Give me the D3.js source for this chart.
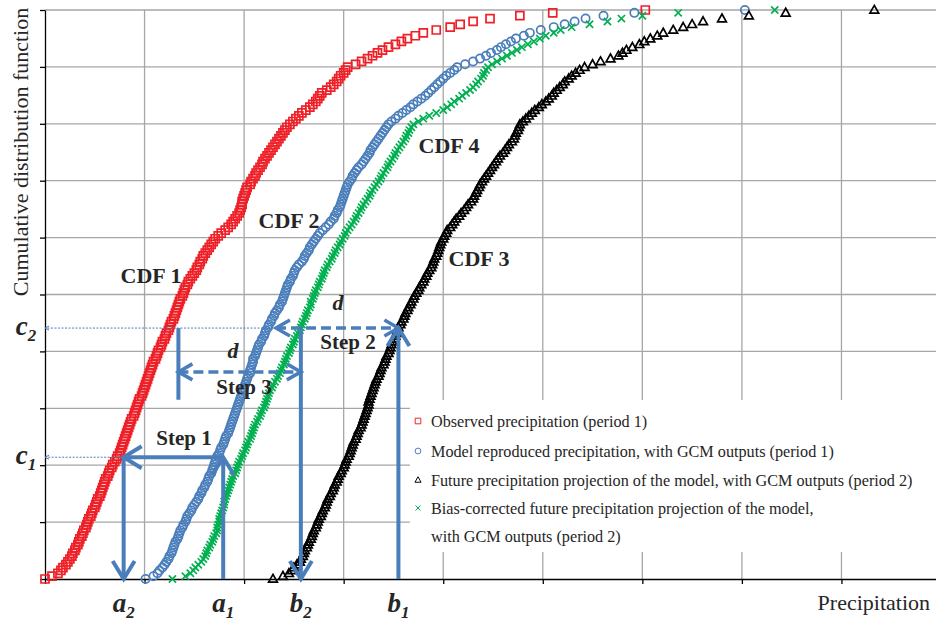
<!DOCTYPE html>
<html>
<head>
<meta charset="utf-8">
<script src="https://cdn.jsdelivr.net/npm/d3@7"></script>
<style>
body { margin: 0; background: #fff; }
text { font-family: "Liberation Serif", "Times New Roman", serif; }
</style>
</head>
<body>
<svg id="chart" width="936" height="624"></svg>
<script>
// sorted precipitation samples (rank i -> cdf i/(n-1))
var observed = [0,7,13,16,18,21,23,25,27,28, 30,31,33,34,35,37,38,39,41,42,
  43,44,46,47,48,50,51,52,53,55, 56,57,58,59,60,61,63,64,65,67,
  68,70,72,73,75,76,77,78,79,80, 81,82,83,84,85,86,87,89,90,91,
  92,93,94,95,97,98,99,100,101,102, 103,104,105,106,107,108,109,111,112,113,
  114,116,117,118,120,121,122,124,125,126, 127,129,130,131,132,133,134,135,136,138,
  139,140,141,143,144,146,148,150,152,153, 155,156,158,159,161,163,165,167,169,171,
  174,177,181,184,187,189,191,193,195,196, 197,198,198,199,200,201,202,203,206,207,
  209,211,212,214,216,218,219,221,223,225, 227,229,231,233,235,237,239,241,243,246,
  249,252,255,258,262,266,269,272,274,276, 278,283,287,290,293,295,297,300,302,304,
  312,318,324,329,334,339,345,352,358,364, 372,380,393,407,417,430,447,477,510,603];
var modelled = [101,109,113,115,118,120,122,124,125,127, 128,129,130,131,133,134,135,136,138,139,
  141,142,143,145,147,148,150,152,154,155, 157,158,160,161,163,164,165,167,168,169,
  170,171,172,173,175,176,177,179,180,181, 182,184,185,186,187,188,189,190,191,192,
  193,194,195,196,197,198,199,200,201,202, 203,204,206,206,207,208,209,209,211,212,
  213,214,215,217,218,220,221,222,224,225, 227,228,230,231,233,235,236,238,239,240,
  241,242,243,244,246,247,249,250,251,253, 255,258,260,261,263,265,266,268,270,272,
  274,276,279,282,285,287,290,291,293,294, 296,297,298,299,300,301,302,303,304,306,
  308,309,311,313,315,318,320,322,324,326, 327,329,331,333,335,337,339,341,343,345,
  348,352,355,359,363,367,370,374,378,382, 385,388,391,394,397,400,403,407,411,414,
  422,430,437,443,448,454,458,463,468,473, 481,487,498,511,522,532,543,561,592,703];
var future = [229,239,245,248,250,253,256,257,259,260, 261,263,264,265,267,268,269,270,272,273,
  274,275,277,278,279,281,282,283,284,286, 287,289,290,291,293,294,295,297,298,300,
  301,302,303,305,306,307,308,309,310,312, 313,314,315,317,318,319,320,321,322,323,
  324,325,325,326,327,328,329,330,331,332, 333,335,336,337,338,340,341,342,343,345,
  346,347,348,349,351,352,353,354,355,357, 358,360,361,362,364,365,367,368,370,371,
  373,375,376,378,380,381,383,384,386,388, 389,390,391,393,394,395,396,397,398,400,
  401,403,404,407,409,411,413,416,418,421, 423,425,428,430,431,433,434,436,437,439,
  441,443,445,447,449,451,453,455,457,460, 462,464,466,469,471,472,473,475,476,477,
  480,483,486,489,492,496,499,503,506,509, 511,514,517,520,522,526,529,533,537,542,
  550,558,568,576,580,584,590,597,602,608, 615,621,631,641,650,661,680,707,744,833];
var corrected = [128,141,146,149,151,154,157,159,161,162, 163,165,166,168,169,170,172,173,173,174,
  175,175,176,177,178,179,180,180,181,182, 183,184,185,186,187,188,189,191,192,193,
  194,195,197,198,199,201,202,203,204,206, 207,208,209,210,211,213,214,216,217,218,
  220,221,222,223,224,225,226,228,229,231, 233,234,236,237,238,240,241,242,243,245,
  246,247,249,250,251,253,254,256,257,258, 259,261,262,263,264,266,267,267,269,270,
  271,272,274,275,276,278,279,280,281,283, 284,286,288,289,291,292,294,296,297,299,
  301,302,304,306,308,310,312,313,315,317, 318,320,322,324,326,327,329,331,333,335,
  337,338,340,342,344,345,347,349,351,352, 354,356,358,360,362,363,365,366,368,370,
  375,380,386,393,400,404,408,411,416,419, 423,427,430,433,435,438,440,441,443,445,
  449,454,459,464,469,474,479,485,491,497, 503,511,518,529,547,565,579,600,636,733];

var xTicks = [0,100,200,300,400,500,600,700,800,900];
var yTicks = [0,0.1,0.2,0.3,0.4,0.5,0.6,0.7,0.8,0.9,1];
var legendLabels = [
  ["Observed precipitation (period 1)"],
  ["Model reproduced precipitation, with GCM outputs (period 1)"],
  ["Future precipitation projection of the model, with GCM outputs (period 2)"],
  ["Bias-corrected future precipitation projection of the model,", "with GCM outputs (period 2)"]
];

// quantile-mapping annotation values
var c1 = 0.214, c2 = 0.441;
var a2 = 79, a1 = 179, b2 = 257, b1 = 355;
var step2From = 232, step3From = 134;
var step3Level = 0.364, step3Bottom = 0.315;

var blue = "#4a7ebb";
var svg = d3.select("#chart");
var x = d3.scaleLinear().domain([0, 900]).range([45, 941]);
var y = d3.scaleLinear().domain([0, 1]).range([579, 10]);

// grid
svg.append("g").selectAll("line").data(xTicks.slice(1)).join("line")
    .attr("x1", d => x(d)).attr("x2", d => x(d))
    .attr("y1", y(0)).attr("y2", y(1))
    .attr("stroke", "#a6a6a6").attr("stroke-width", 1.3);
svg.append("g").selectAll("line").data(yTicks.slice(1)).join("line")
    .attr("x1", x(0)).attr("x2", x(900))
    .attr("y1", d => y(d)).attr("y2", d => y(d))
    .attr("stroke", "#a6a6a6").attr("stroke-width", 1.3);

// legend panel hides the grid behind it
svg.append("rect").attr("x", 410).attr("y", 400).attr("width", 540).attr("height", 152).attr("fill", "#fff");

// axes
var yAxis = svg.append("g").attr("transform", "translate(" + x(0) + ",0)")
    .call(d3.axisLeft(y).tickValues(yTicks).tickSize(5).tickSizeOuter(0).tickFormat(""));
var xAxis = svg.append("g").attr("transform", "translate(0," + y(0) + ")")
    .call(d3.axisBottom(x).tickValues(xTicks).tickSize(5).tickSizeOuter(0).tickFormat(""));
[xAxis, yAxis].forEach(function(g) {
    g.selectAll("path,line").attr("stroke", "#000").attr("stroke-width", 1.3);
});

// markers
var shapes = {
    square: "M-4,-4h8v8h-8z",
    circle: d3.symbol(d3.symbolCircle, 54)(),
    triangle: "M0,-4.6L4.4,3.2L-4.4,3.2Z",
    cross: "M-3.6,-3.6L3.6,3.6M-3.6,3.6L3.6,-3.6"
};
var series = [
    {values: observed, shape: "square", color: "#ee2028"},
    {values: modelled, shape: "circle", color: blue},
    {values: future, shape: "triangle", color: "#000"},
    {values: corrected, shape: "cross", color: "#00b050"}
];
series.forEach(function(s) {
    var n = s.values.length;
    svg.append("g").selectAll("path").data(s.values).join("path")
        .attr("d", shapes[s.shape])
        .attr("transform", (d, i) => "translate(" + x(d) + "," + y(i / (n - 1)) + ")")
        .attr("fill", "none")
        .attr("stroke", s.color)
        .attr("stroke-width", 1.7);
});

// arrow heads
var defs = svg.append("defs");
function arrowHead(id, w, h, sw) {
    defs.append("marker").attr("id", id)
        .attr("markerUnits", "userSpaceOnUse")
        .attr("viewBox", "0 0 " + w + " " + h)
        .attr("markerWidth", w).attr("markerHeight", h)
        .attr("refX", w - 3).attr("refY", h / 2)
        .attr("orient", "auto-start-reverse")
        .style("overflow", "visible")
      .append("path")
        .attr("d", "M3,3L" + (w - 3) + "," + (h / 2) + "L3," + (h - 3))
        .attr("fill", "none").attr("stroke", blue)
        .attr("stroke-width", sw).attr("stroke-dasharray", "none");
}
arrowHead("big", 24, 28, 4);
arrowHead("dash", 20, 22, 3.5);
arrowHead("thin", 10, 10, 1);

var ann = svg.append("g").attr("fill", "none").attr("stroke", blue);
function seg(x1, y1, x2, y2) {
    return ann.append("line").attr("x1", x(x1)).attr("y1", y(y1)).attr("x2", x(x2)).attr("y2", y(y2));
}
// thin dotted leaders to the c levels
seg(a2, c1, 0, c1).attr("stroke-width", 1).attr("stroke-dasharray", "2,1.5").attr("marker-end", "url(#thin)");
seg(226, c2, 0, c2).attr("stroke-width", 1).attr("stroke-dasharray", "2,1.5").attr("marker-end", "url(#thin)");
// step 1 and the vertical drops
seg(a1, c1, a2, c1).attr("stroke-width", 4).attr("marker-end", "url(#big)");
seg(a2, c1, a2, 0).attr("stroke-width", 4).attr("marker-end", "url(#big)");
seg(a1, 0, a1, c1).attr("stroke-width", 4).attr("marker-end", "url(#big)");
seg(b1, 0, b1, c2).attr("stroke-width", 4).attr("marker-end", "url(#big)");
seg(b2, c2, b2, 0).attr("stroke-width", 4).attr("marker-end", "url(#big)");
seg(step3From, c2, step3From, step3Bottom).attr("stroke-width", 4);
// dashed d arrows
seg(step2From, c2, b1, c2).attr("stroke-width", 3.5).attr("stroke-dasharray", "10,5")
    .attr("marker-start", "url(#dash)").attr("marker-end", "url(#dash)");
seg(step3From, step3Level, b2, step3Level).attr("stroke-width", 3.5).attr("stroke-dasharray", "10,5")
    .attr("marker-start", "url(#dash)").attr("marker-end", "url(#dash)");

// bold labels in the plot
var notes = [
    {t: "CDF 1", x: 151, y: 283, s: 22, it: false},
    {t: "CDF 2", x: 289, y: 228, s: 22, it: false},
    {t: "CDF 4", x: 449, y: 153, s: 22, it: false},
    {t: "CDF 3", x: 479, y: 266, s: 22, it: false},
    {t: "Step 1", x: 184, y: 445, s: 21, it: false},
    {t: "Step 2", x: 348, y: 349, s: 21, it: false},
    {t: "Step 3", x: 244, y: 394, s: 21, it: false},
    {t: "d", x: 233, y: 358, s: 22, it: true},
    {t: "d", x: 338, y: 310, s: 22, it: true}
];
svg.append("g").selectAll("text").data(notes).join("text")
    .attr("x", d => d.x).attr("y", d => d.y)
    .attr("text-anchor", "middle")
    .attr("font-size", d => d.s).attr("font-weight", "bold")
    .attr("font-style", d => d.it ? "italic" : "normal")
    .attr("fill", "#262626")
    .text(d => d.t);

// subscripted axis marks
var xMarks = [["a", "2", a2], ["a", "1", a1], ["b", "2", b2], ["b", "1", b1]];
var yMarks = [["c", "2", c2], ["c", "1", c1]];
function subLabel(sel) {
    sel.attr("font-weight", "bold").attr("font-style", "italic").attr("fill", "#262626")
       .attr("font-size", 27);
    sel.append("tspan").text(d => d[0]);
    sel.append("tspan").attr("font-size", 17).attr("dy", 6).text(d => d[1]);
}
svg.append("g").selectAll("text").data(xMarks).join("text")
    .attr("x", d => x(d[2])).attr("y", 612).attr("text-anchor", "middle")
    .call(subLabel);
svg.append("g").selectAll("text").data(yMarks).join("text")
    .attr("x", 26).attr("y", d => y(d[2]) + 7).attr("text-anchor", "middle")
    .call(subLabel);

// axis titles
svg.append("text")
    .attr("transform", "translate(28,152) rotate(-90)")
    .attr("text-anchor", "middle").attr("font-size", 22).attr("fill", "#262626")
    .text("Cumulative distribution function");
svg.append("text")
    .attr("x", 930).attr("y", 610).attr("text-anchor", "end")
    .attr("font-size", 22).attr("fill", "#262626")
    .text("Precipitation");

// legend
var lg = svg.append("g");
var rowsY = [421, 451, 480, 508];
legendLabels.forEach(function(lines, k) {
    var s = series[k];
    lg.append("path").attr("d", shapes[s.shape])
        .attr("transform", "translate(418," + rowsY[k] + ") scale(0.7)")
        .attr("fill", "none").attr("stroke", s.color).attr("stroke-width", 1.4);
    lines.forEach(function(line, j) {
        lg.append("text").attr("x", 431).attr("y", rowsY[k] + 6 + j * 28)
            .attr("font-size", 16.2).attr("fill", "#262626").text(line);
    });
});
</script>
</body>
</html>
